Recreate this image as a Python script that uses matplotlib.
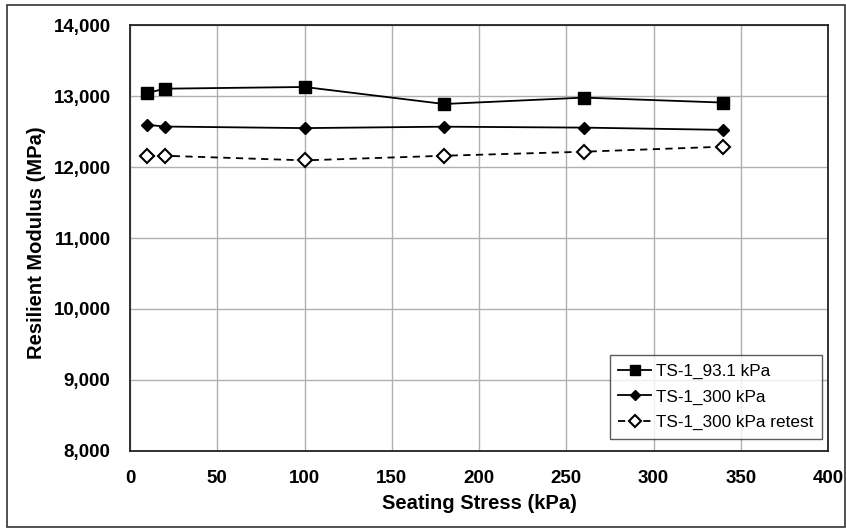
import matplotlib
matplotlib.use("Agg")
import matplotlib.pyplot as plt
from matplotlib.patches import Rectangle

plt.rcParams['font.family'] = ['Liberation Sans', 'DejaVu Sans']

stress = [10, 20, 100, 180, 260, 340]
mr_931 = [13046, 13106, 13130, 12890, 12980, 12910]
mr_300 = [12596, 12572, 12550, 12570, 12557, 12525]
mr_300_retest = [12156, 12160, 12095, 12160, 12217, 12288]

xticks = [0, 50, 100, 150, 200, 250, 300, 350, 400]
yticks = [8000, 9000, 10000, 11000, 12000, 13000, 14000]

fig = plt.figure(figsize=(8.46, 5.28), dpi=100)
ax = fig.add_axes([130/846, 1-450.7/528, (828-130)/846, (450.7-25.3)/528])

ax.plot(stress, mr_931, color='black', lw=1.3, marker='s', ms=9, mfc='black',
        mec='black', label='TS-1_93.1 kPa', zorder=3)
ax.plot(stress, mr_300, color='black', lw=1.3, marker='D', ms=6.5, mfc='black',
        mec='black', label='TS-1_300 kPa', zorder=3)
ax.plot(stress, mr_300_retest, color='black', lw=1.3, ls=(0, (4, 3)), marker='D', ms=7.5,
        mfc='white', mec='black', mew=1.5, label='TS-1_300 kPa retest', zorder=3)

ax.set_xlim(0, 400)
ax.set_ylim(8000, 14000)
ax.set_xticks(xticks)
ax.set_yticks(yticks)
ax.set_xticklabels([str(v) for v in xticks], fontsize=13.5, fontweight='bold')
ax.set_yticklabels([f"{v:,}" for v in yticks], fontsize=13.5, fontweight='bold')
ax.tick_params(length=0, pad=14)
ax.grid(True, color='#b0b0b0', lw=1.0)
ax.set_axisbelow(True)
for s in ax.spines.values():
    s.set_color('#222222')
    s.set_linewidth(1.3)

ax.set_xlabel('Seating Stress (kPa)', fontsize=14.5, fontweight='bold', labelpad=5)
ax.set_ylabel('Resilient Modulus (MPa)', fontsize=14.5, fontweight='bold', labelpad=5)
ax.yaxis.set_label_coords(-0.12, 0.49)

leg = ax.legend(loc='lower right', bbox_to_anchor=(0.9914, 0.028), fontsize=12.3,
                frameon=True, fancybox=False, handlelength=1.9, handletextpad=0.3,
                borderpad=0.5, labelspacing=0.62, borderaxespad=0, markerscale=0.75)
leg.get_frame().set_edgecolor('#333333')
leg.get_frame().set_linewidth(1.0)

fig.patches.append(Rectangle((7/846, 1-527/528), (845-7)/846, (527-5)/528,
                             transform=fig.transFigure, fill=False,
                             edgecolor='#333333', lw=1.2))

fig.savefig('out.png', dpi=100)
